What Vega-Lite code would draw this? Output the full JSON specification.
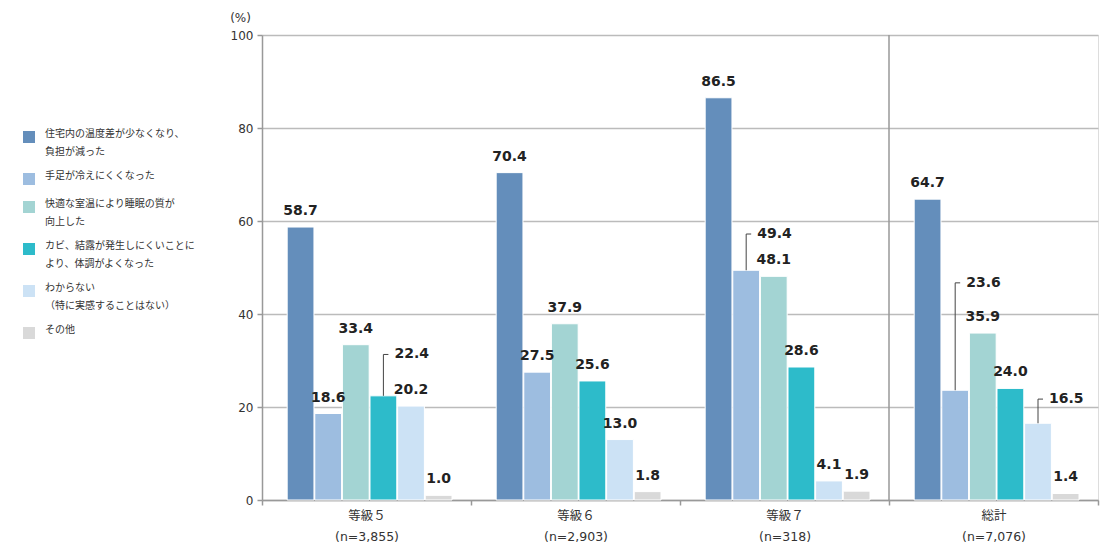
{
  "$schema": "https://vega.github.io/schema/vega-lite/v6.json",
  "width": 836,
  "height": 465,
  "autosize": "none",
  "padding": {"left": 262, "top": 35, "right": 3, "bottom": 56},
  "background": "white",
  "config": {
    "style": {"guide-label": {"lineHeight": 18}}
  },
  "datasets": {
    "bars": [
      {"group": "等級５|(n=3,855)", "item": "住宅内の温度差が少なくなり、|負担が減った", "value": 58.7},
      {"group": "等級５|(n=3,855)", "item": "手足が冷えにくくなった", "value": 18.6},
      {"group": "等級５|(n=3,855)", "item": "快適な室温により睡眠の質が|向上した", "value": 33.4},
      {"group": "等級５|(n=3,855)", "item": "カビ、結露が発生しにくいことに|より、体調がよくなった", "value": 22.4},
      {"group": "等級５|(n=3,855)", "item": "わからない|（特に実感することはない）", "value": 20.2},
      {"group": "等級５|(n=3,855)", "item": "その他", "value": 1.0},
      {"group": "等級６|(n=2,903)", "item": "住宅内の温度差が少なくなり、|負担が減った", "value": 70.4},
      {"group": "等級６|(n=2,903)", "item": "手足が冷えにくくなった", "value": 27.5},
      {"group": "等級６|(n=2,903)", "item": "快適な室温により睡眠の質が|向上した", "value": 37.9},
      {"group": "等級６|(n=2,903)", "item": "カビ、結露が発生しにくいことに|より、体調がよくなった", "value": 25.6},
      {"group": "等級６|(n=2,903)", "item": "わからない|（特に実感することはない）", "value": 13.0},
      {"group": "等級６|(n=2,903)", "item": "その他", "value": 1.8},
      {"group": "等級７|(n=318)", "item": "住宅内の温度差が少なくなり、|負担が減った", "value": 86.5},
      {"group": "等級７|(n=318)", "item": "手足が冷えにくくなった", "value": 49.4},
      {"group": "等級７|(n=318)", "item": "快適な室温により睡眠の質が|向上した", "value": 48.1},
      {"group": "等級７|(n=318)", "item": "カビ、結露が発生しにくいことに|より、体調がよくなった", "value": 28.6},
      {"group": "等級７|(n=318)", "item": "わからない|（特に実感することはない）", "value": 4.1},
      {"group": "等級７|(n=318)", "item": "その他", "value": 1.9},
      {"group": "総計|(n=7,076)", "item": "住宅内の温度差が少なくなり、|負担が減った", "value": 64.7},
      {"group": "総計|(n=7,076)", "item": "手足が冷えにくくなった", "value": 23.6},
      {"group": "総計|(n=7,076)", "item": "快適な室温により睡眠の質が|向上した", "value": 35.9},
      {"group": "総計|(n=7,076)", "item": "カビ、結露が発生しにくいことに|より、体調がよくなった", "value": 24.0},
      {"group": "総計|(n=7,076)", "item": "わからない|（特に実感することはない）", "value": 16.5},
      {"group": "総計|(n=7,076)", "item": "その他", "value": 1.4}
    ],
    "callouts": [
      {"group": "等級５|(n=3,855)", "item": "カビ、結露が発生しにくいことに|より、体調がよくなった", "value": 22.4, "labelAt": 31.3},
      {"group": "等級７|(n=318)", "item": "手足が冷えにくくなった", "value": 49.4, "labelAt": 57.2},
      {"group": "総計|(n=7,076)", "item": "手足が冷えにくくなった", "value": 23.6, "labelAt": 46.7},
      {"group": "総計|(n=7,076)", "item": "わからない|（特に実感することはない）", "value": 16.5, "labelAt": 21.7}
    ]
  },
  "layer": [
    {
      "data": {"name": "bars"},
      "mark": {"type": "bar", "stroke": "white", "strokeWidth": 1},
      "encoding": {
        "x": {
          "field": "group", "type": "nominal", "sort": null,
          "scale": {"paddingInner": 0, "paddingOuter": 0},
          "axis": {
            "title": null, "labelAngle": 0,
            "labelExpr": "split(datum.label, '|')",
            "labelLineHeight": 21, "labelFontSize": 12.5, "labelColor": "#333",
            "labelFont": "DejaVu Sans, Noto Sans CJK JP",
            "labelPadding": 4, "tickBand": "extent", "tickSize": 5,
            "tickColor": "#999", "tickWidth": 1.5, "domainColor": "#999", "domainWidth": 1.5,
            "grid": false
          }
        },
        "xOffset": {
          "field": "item", "type": "nominal", "sort": null,
          "scale": {"paddingInner": 0.03, "paddingOuter": 0.8, "align": 0.57}
        },
        "y": {
          "field": "value", "type": "quantitative",
          "scale": {"domain": [0, 100], "nice": false},
          "axis": {
            "values": [0, 20, 40, 60, 80, 100],
            "title": "(%)", "titleAngle": 0, "titleX": -22, "titleY": -18,
            "titleAlign": "center", "titleBaseline": "middle",
            "titleFontSize": 12, "titleFontWeight": "normal", "titleColor": "#333",
            "titleFont": "DejaVu Sans",
            "labelFontSize": 12, "labelColor": "#333", "labelFont": "DejaVu Sans",
            "labelPadding": 4, "tickSize": 5, "tickColor": "#999", "tickWidth": 1.5,
            "domainColor": "#999", "domainWidth": 1.5,
            "gridColor": "#bbb", "gridWidth": 1.5
          }
        },
        "color": {
          "field": "item", "type": "nominal", "sort": null,
          "scale": {"range": ["#648EBB", "#9DBDE0", "#A3D4D3", "#2DBBCA", "#CCE2F5", "#D9D9D9"]},
          "legend": {
            "orient": "none", "legendX": -239, "legendY": 96, "title": null,
            "symbolType": "square", "symbolSize": 144, "symbolStrokeWidth": 0,
            "labelExpr": "split(datum.label, '|')",
            "labelFont": "Noto Sans CJK JP", "labelFontSize": 10, "labelColor": "#333",
            "labelBaseline": "alphabetic", "labelOffset": 10,
            "labelLimit": 300, "rowPadding": 14
          }
        }
      }
    },
    {
      "data": {"values": [{"group": "総計|(n=7,076)"}]},
      "mark": {"type": "rule", "color": "#999", "strokeWidth": 1.5},
      "encoding": {
        "x": {"field": "group", "type": "nominal", "bandPosition": 0}
      }
    },
    {
      "data": {"name": "bars"},
      "transform": [{"filter": "indexof([22.4, 49.4, 23.6, 16.5], datum.value) < 0"}],
      "mark": {"type": "text", "font": "DejaVu Sans", "fontWeight": "bold", "fontSize": 14, "color": "#222", "baseline": "alphabetic", "dy": -12},
      "encoding": {
        "x": {"field": "group", "type": "nominal", "sort": null},
        "xOffset": {"field": "item", "type": "nominal", "sort": null},
        "y": {"field": "value", "type": "quantitative"},
        "text": {"field": "value", "type": "quantitative", "format": ".1f"}
      }
    },
    {
      "data": {"name": "callouts"},
      "mark": {"type": "rule", "color": "#444", "strokeWidth": 1},
      "encoding": {
        "x": {"field": "group", "type": "nominal", "sort": null},
        "xOffset": {"field": "item", "type": "nominal", "sort": null},
        "y": {"field": "value", "type": "quantitative"},
        "y2": {"field": "labelAt"}
      }
    },
    {
      "data": {"name": "callouts"},
      "mark": {"type": "point", "shape": "M0,0H1", "size": 100, "filled": false, "stroke": "#444", "strokeWidth": 1, "opacity": 1},
      "encoding": {
        "x": {"field": "group", "type": "nominal", "sort": null},
        "xOffset": {"field": "item", "type": "nominal", "sort": null},
        "y": {"field": "labelAt", "type": "quantitative"}
      }
    },
    {
      "data": {"name": "callouts"},
      "mark": {"type": "text", "font": "DejaVu Sans", "fontWeight": "bold", "fontSize": 14, "color": "#222", "align": "left", "baseline": "middle", "dx": 11},
      "encoding": {
        "x": {"field": "group", "type": "nominal", "sort": null},
        "xOffset": {"field": "item", "type": "nominal", "sort": null},
        "y": {"field": "labelAt", "type": "quantitative"},
        "text": {"field": "value", "type": "quantitative", "format": ".1f"}
      }
    }
  ]
}
